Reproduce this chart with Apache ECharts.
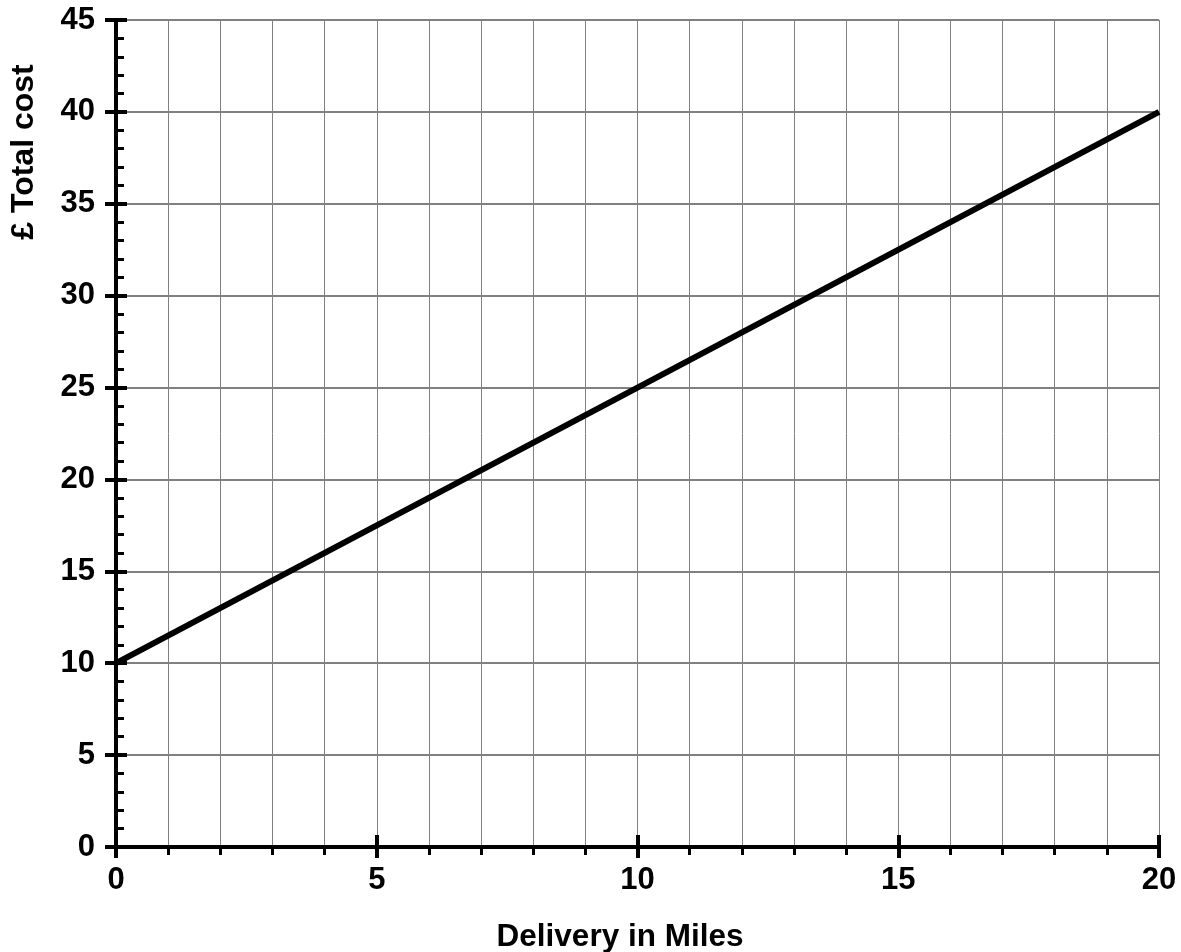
<!DOCTYPE html>
<html>
<head>
<meta charset="utf-8">
<script src="https://cdn.jsdelivr.net/npm/echarts@6/dist/echarts.min.js"></script>
<style>
  html, body { margin: 0; padding: 0; background: #fff; }
  #chart { width: 1181px; height: 952px; }
</style>
</head>
<body>
<div id="chart"></div>
<script>
// delivery distance (miles) and total cost (£)
const miles = [0, 10, 20];
const totalCost = [10, 25, 40];

const xTitle = "Delivery in Miles";
const yTitle = "£ Total cost";

const font = "Liberation Sans";
const gridColor = "#808080";

const chart = echarts.init(document.getElementById("chart"));

const option = {
  backgroundColor: "#fff",
  animation: false,
  grid: { left: 116, right: 22, top: 20, bottom: 105 },
  xAxis: [
    {
      type: "value",
      min: 0,
      max: 20,
      interval: 5,
      position: "bottom",
      axisLine: { show: true, onZero: false, lineStyle: { color: "#000", width: 4 } },
      axisTick: { show: true, inside: false, length: 11, lineStyle: { color: "#000", width: 4 } },
      minorTick: { show: true, splitNumber: 5, length: 8, lineStyle: { color: "#000", width: 3 } },
      axisLabel: { margin: 18, color: "#000", fontFamily: font, fontWeight: "bold", fontSize: 31 },
      splitLine: { show: true, lineStyle: { color: gridColor, width: 1 } },
      minorSplitLine: { show: true, lineStyle: { color: gridColor, width: 1 } },
    },
    {
      type: "value",
      min: 0,
      max: 20,
      interval: 5,
      position: "bottom",
      axisLine: { show: false, onZero: false },
      axisTick: { show: true, inside: true, length: 12, lineStyle: { color: "#000", width: 4 } },
      axisLabel: { show: false },
      splitLine: { show: false },
    },
  ],
  yAxis: [
    {
      type: "value",
      min: 0,
      max: 45,
      interval: 5,
      position: "left",
      axisLine: { show: true, onZero: false, lineStyle: { color: "#000", width: 4 } },
      axisTick: { show: true, inside: true, length: 11, lineStyle: { color: "#000", width: 4 } },
      minorTick: { show: true, splitNumber: 5, length: 8, lineStyle: { color: "#000", width: 3 } },
      axisLabel: { show: false },
      splitLine: { show: true, lineStyle: { color: gridColor, width: 2 } },
    },
    {
      type: "value",
      min: 0,
      max: 45,
      interval: 5,
      position: "left",
      axisLine: { show: false, onZero: false },
      axisTick: { show: true, inside: false, length: 11, lineStyle: { color: "#000", width: 4 } },
      axisLabel: { margin: 21, color: "#000", fontFamily: font, fontWeight: "bold", fontSize: 31 },
      splitLine: { show: false },
    },
  ],
  graphic: [
    {
      type: "text",
      x: 620,
      y: 937,
      style: {
        text: xTitle,
        fill: "#000",
        font: "bold 31.5px '" + font + "'",
        align: "center",
        verticalAlign: "middle",
      },
    },
    {
      type: "text",
      x: 24,
      y: 152,
      rotation: Math.PI / 2,
      style: {
        text: yTitle,
        fill: "#000",
        font: "bold 32px '" + font + "'",
        align: "center",
        verticalAlign: "middle",
      },
    },
  ],
  series: [
    {
      type: "line",
      xAxisIndex: 0,
      yAxisIndex: 0,
      data: miles.map((m, i) => [m, totalCost[i]]),
      symbol: "none",
      z: 5,
      lineStyle: { color: "#000", width: 6 },
    },
  ],
};

chart.setOption(option);
</script>
</body>
</html>
